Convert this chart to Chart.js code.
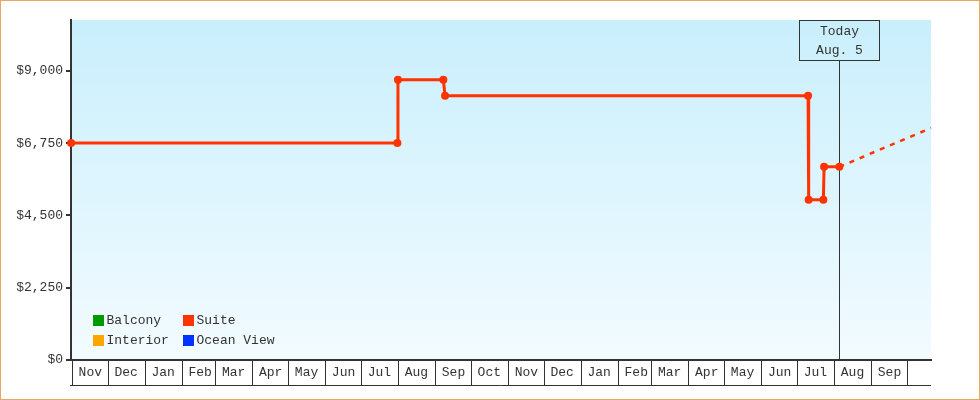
<!DOCTYPE html>
<html><head><meta charset="utf-8">
<script src="https://cdn.jsdelivr.net/npm/chart.js@4.4.1/dist/chart.umd.min.js"></script>
<style>
html,body{margin:0;padding:0;background:#fff;}
#frame{width:980px;height:400px;box-sizing:border-box;border:1px solid #e8a65e;position:relative;background:#fff;}
#wrap{position:absolute;left:0;top:0;width:978px;height:398px;}
</style></head><body>
<div id="frame"><div id="wrap"><canvas id="c"></canvas></div></div>
<script>
// ---- data ----
const monthLabels = ['Nov','Dec','Jan','Feb','Mar','Apr','May','Jun','Jul','Aug','Sep','Oct','Nov','Dec','Jan','Feb','Mar','Apr','May','Jun','Jul','Aug','Sep',''];
const monthStartDays = [0,30,61,92,120,151,181,212,242,273,304,334,365,395,426,457,485,516,546,577,607,638,669,699];
const yTickValues = [0,2250,4500,6750,9000];
const seriesNames = ['Balcony','Interior','Ocean View','Suite'];
const seriesColors = ['#009900','#ffa500','#0033ff','#ff3300'];
const suiteDays = [-1, 272.1, 272.6, 310.6, 312.0, 615.9, 616.4, 628.7, 629.3, 642.1];
const suitePrices = [6750, 6750, 8720, 8720, 8220, 8220, 4990, 4990, 6010, 6010];
const forecastDays = [642.1, 718.8];
const forecastPrices = [6010, 7220];
const todayDay = 642.1;
const todayLabel = ['Today','Aug. 5'];
const legendGrid = [['Balcony','Suite'],['Interior','Ocean View']];

const FONT = "'Liberation Mono', 'DejaVu Sans Mono', monospace";
const TXT = '#333333';
Chart.defaults.font.family = FONT;
Chart.defaults.font.size = 13;
Chart.defaults.color = TXT;

const datasets = seriesNames.map((name, i) => ({
  label: name,
  data: name === 'Suite' ? suiteDays.map((d, k) => ({x: d, y: suitePrices[k]})) : [],
  borderColor: seriesColors[i],
  backgroundColor: seriesColors[i],
  pointBackgroundColor: seriesColors[i],
  borderWidth: 3,
  pointRadius: 4,
  pointBorderWidth: 0,
  tension: 0,
  clip: false
}));
datasets.push({
  label: 'Suite forecast',
  data: forecastDays.map((d, k) => ({x: d, y: forecastPrices[k]})),
  borderColor: seriesColors[3],
  borderWidth: 2.5,
  borderDash: [5, 6],
  pointRadius: 0,
  tension: 0,
  clip: false
});

const bgPlugin = {
  id: 'bg',
  beforeDraw(chart) {
    const {ctx, chartArea: a} = chart;
    const g = ctx.createLinearGradient(0, a.top, 0, a.bottom);
    g.addColorStop(0, '#c9effc');
    g.addColorStop(1, '#f3fbff');
    ctx.save();
    ctx.fillStyle = g;
    ctx.fillRect(a.left, a.top, a.right - a.left, a.bottom - a.top);
    ctx.restore();
  }
};

const todayPlugin = {
  id: 'today',
  beforeDatasetsDraw(chart) {
    const {ctx, chartArea: a} = chart;
    const x = Math.round(chart.scales.x.getPixelForValue(todayDay)) + 0.5;
    const top = a.top + 0.5, boxH = 40, boxW = 80;
    ctx.save();
    ctx.strokeStyle = TXT;
    ctx.lineWidth = 1;
    ctx.beginPath();
    ctx.moveTo(x, top + boxH);
    ctx.lineTo(x, a.bottom);
    ctx.stroke();
    ctx.strokeRect(x - boxW / 2, top, boxW, boxH);
    ctx.fillStyle = TXT;
    ctx.font = '13px ' + FONT;
    ctx.textAlign = 'center';
    ctx.textBaseline = 'middle';
    ctx.fillText(todayLabel[0], x, a.top + 12);
    ctx.fillText(todayLabel[1], x, a.top + 31);
    ctx.restore();
  }
};

const extrasPlugin = {
  id: 'extras',
  afterDraw(chart) {
    const {ctx, chartArea: a} = chart;
    ctx.save();
    // bottom rule of month cells
    ctx.strokeStyle = TXT;
    ctx.lineWidth = 1;
    ctx.beginPath();
    ctx.moveTo(a.left - 1, a.bottom + 25.5);
    ctx.lineTo(a.right, a.bottom + 25.5);
    ctx.stroke();
    // legend
    ctx.font = '13px ' + FONT;
    ctx.textAlign = 'left';
    ctx.textBaseline = 'middle';
    legendGrid.forEach((row, r) => {
      row.forEach((name, c) => {
        const ds = chart.data.datasets.find(d => d.label === name);
        const sx = a.left + 22 + c * 90;
        const sy = a.bottom - 45 + r * 20;
        ctx.fillStyle = ds.borderColor;
        ctx.fillRect(sx, sy, 11, 11);
        ctx.fillStyle = TXT;
        ctx.fillText(name, sx + 13.5, sy + 6);
      });
    });
    ctx.restore();
  }
};

new Chart(document.getElementById('c'), {
  type: 'line',
  data: {datasets},
  options: {
    responsive: true,
    maintainAspectRatio: false,
    animation: false,
    events: [],
    layout: {padding: {top: 19, right: 48, left: 0, bottom: 0}},
    plugins: {legend: {display: false}, tooltip: {enabled: false}},
    scales: {
      x: {
        type: 'linear',
        position: 'bottom',
        min: -1.1,
        max: 718.8,
        afterBuildTicks: s => { s.ticks = monthStartDays.map(v => ({value: v})); },
        afterFit: s => { s.height = 39; },
        ticks: {
          autoSkip: false, maxRotation: 0, minRotation: 0,
          padding: -20, labelOffset: 18, color: TXT,
          font: {family: FONT, size: 13},
          callback: (v, i) => monthLabels[i]
        },
        grid: {drawOnChartArea: false, drawTicks: true, tickLength: 25, color: TXT, lineWidth: 1},
        border: {display: true, color: TXT, width: 2}
      },
      y: {
        min: 0,
        max: 10580,
        afterBuildTicks: s => { s.ticks = yTickValues.map(v => ({value: v})); },
        afterFit: s => { s.width = 70; },
        ticks: {
          padding: 3, color: TXT, font: {family: FONT, size: 13},
          callback: v => '$' + Number(v).toLocaleString('en-US')
        },
        grid: {drawOnChartArea: false, drawTicks: true, tickLength: 5, color: TXT, lineWidth: 2},
        border: {display: true, color: TXT, width: 2}
      }
    }
  },
  plugins: [bgPlugin, todayPlugin, extrasPlugin]
});
</script>
</body></html>
